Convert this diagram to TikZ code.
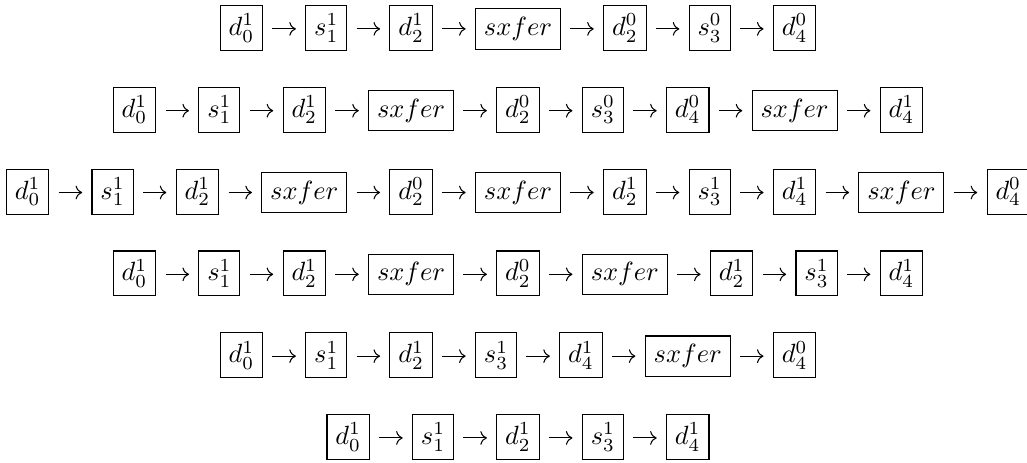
\documentclass[tikz,border=0pt]{standalone}
\usetikzlibrary{matrix,arrows.meta}
\tikzset{
  boxnode/.style={draw, line width=0.4pt, inner sep=3.2pt},
  rowmat/.style={matrix of math nodes, nodes={boxnode}, column sep=15.956pt, inner sep=0pt},
  arr/.style={line width=0.4pt, -{Computer Modern Rightarrow}, shorten <=3.54pt, shorten >=3.54pt}
}
\begin{document}
\begin{tikzpicture}
\useasboundingbox (0,0) rectangle (389.4pt,-175.2pt);
\matrix (r1) [rowmat] at (196.4pt,-10.62pt) {
  d_0^1 & s_1^1 & d_2^1 & sxfer & d_2^0 & s_3^0 & d_4^0 \\ };
\matrix (r2) [rowmat] at (196.4pt,-41.64pt) {
  d_0^1 & s_1^1 & d_2^1 & sxfer & d_2^0 & s_3^0 & d_4^0 & sxfer & d_4^1 \\ };
\matrix (r3) [rowmat] at (196.4pt,-72.66pt) {
  d_0^1 & s_1^1 & d_2^1 & sxfer & d_2^0 & sxfer & d_2^1 & s_3^1 & d_4^1 & sxfer & d_4^0 \\ };
\matrix (r4) [rowmat] at (196.4pt,-103.68pt) {
  d_0^1 & s_1^1 & d_2^1 & sxfer & d_2^0 & sxfer & d_2^1 & s_3^1 & d_4^1 \\ };
\matrix (r5) [rowmat] at (196.4pt,-134.70pt) {
  d_0^1 & s_1^1 & d_2^1 & s_3^1 & d_4^1 & sxfer & d_4^0 \\ };
\matrix (r6) [rowmat] at (196.4pt,-165.72pt) {
  d_0^1 & s_1^1 & d_2^1 & s_3^1 & d_4^1 \\ };
\foreach \r/\n in {1/6,2/8,3/10,4/8,5/6,6/4} {
  \foreach \c in {1,...,\n} {
    \pgfmathtruncatemacro\d{\c+1}
    \draw[arr] ([yshift=2.5pt]r\r-1-\c.base east) -- ([yshift=2.5pt]r\r-1-\d.base west);
  }
}
\end{tikzpicture}
\end{document}
